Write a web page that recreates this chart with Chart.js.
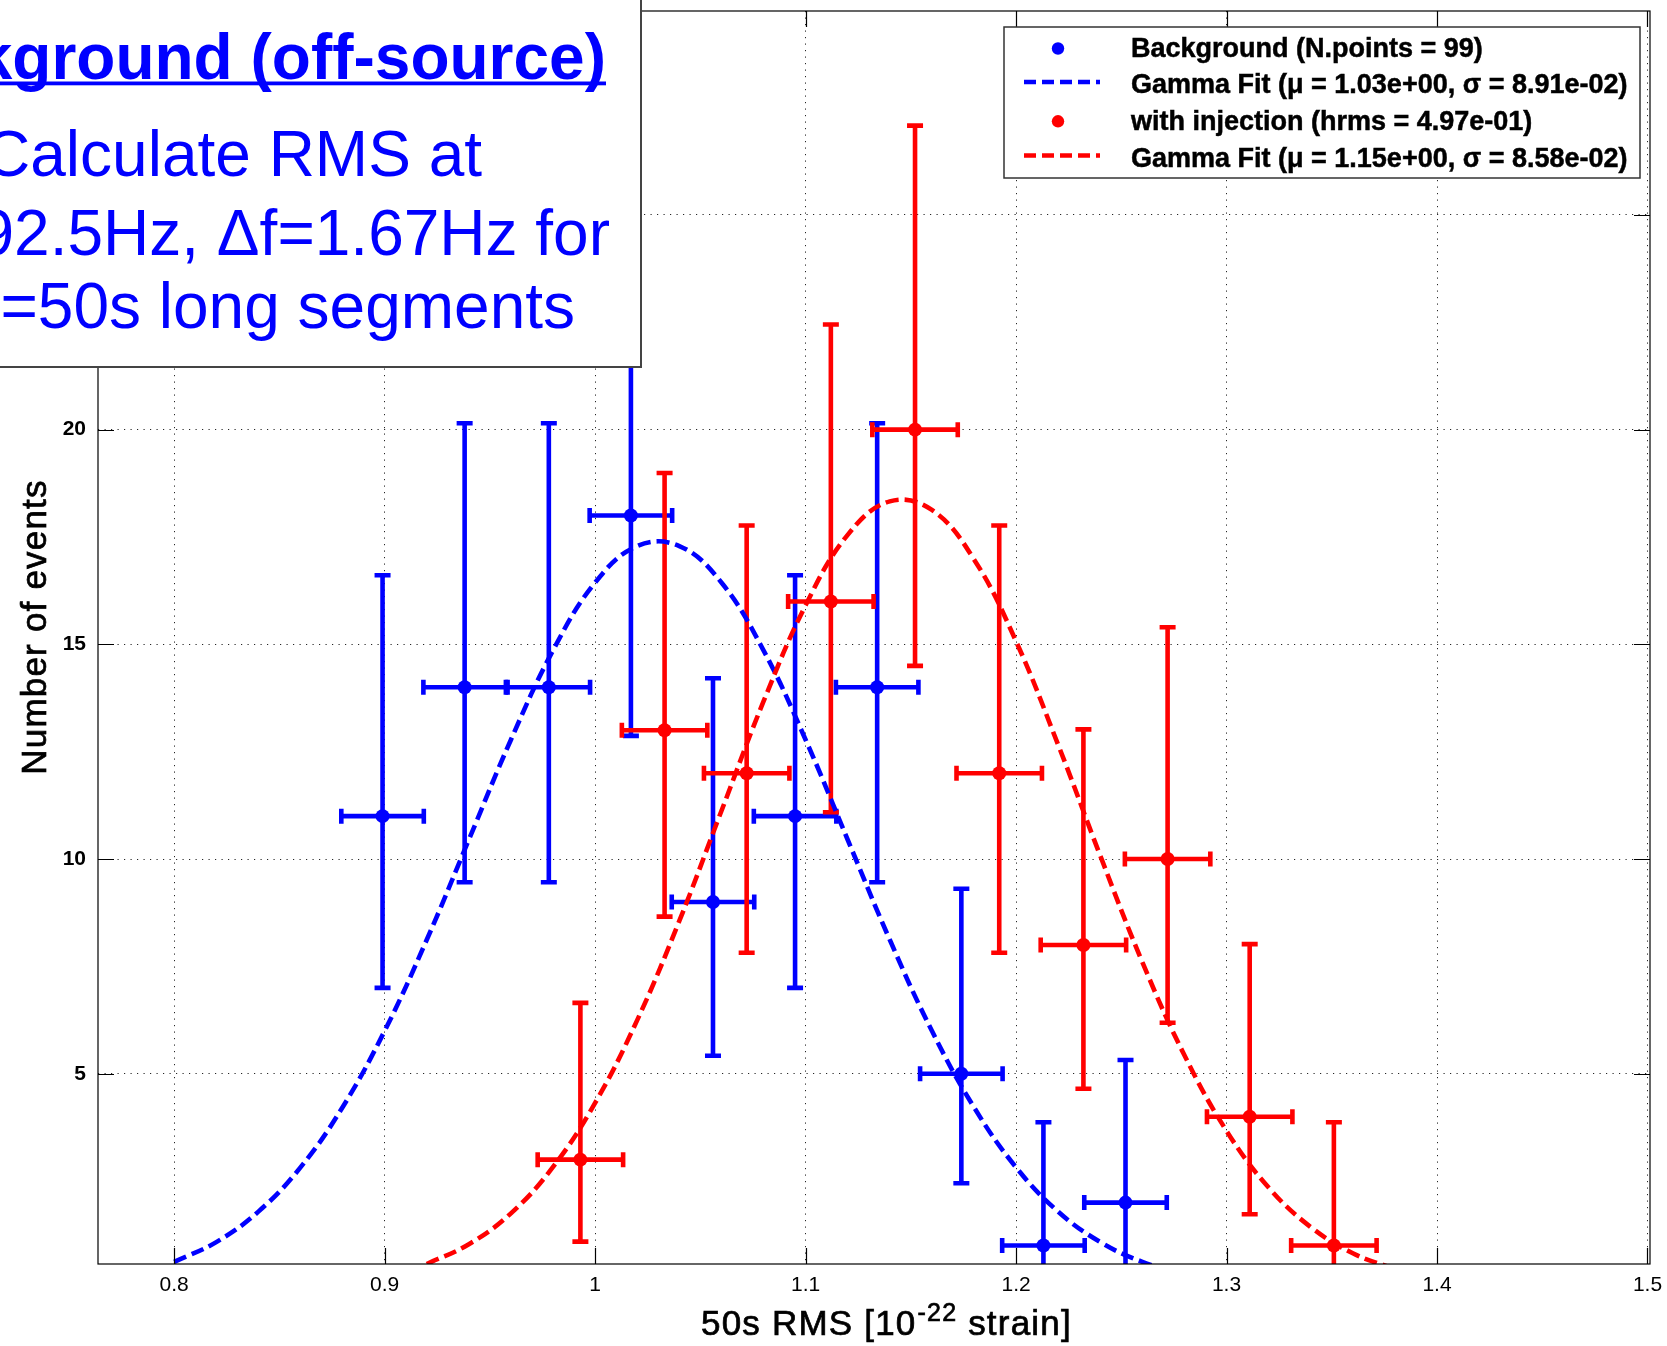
<!DOCTYPE html>
<html>
<head>
<meta charset="utf-8">
<script src="https://cdn.jsdelivr.net/npm/chart.js@4.4.0/dist/chart.umd.min.js"></script>
<style>
html, body { margin:0; padding:0; background:#fff; overflow:hidden; }
#wrap { width:1667px; height:1346px; position:relative; }
</style>
</head>
<body>
<div id="wrap"><canvas id="graf"></canvas></div>
<script>
// tick labels
var xTicks = [0.8, 0.9, 1.0, 1.1, 1.2, 1.3, 1.4, 1.5];
var yTicks = [5, 10, 15, 20, 25];

// background (off-source) histogram, with error bars
var bgX  = [0.899, 0.938, 0.978, 1.017, 1.056, 1.095, 1.134, 1.174, 1.213, 1.252];
var bgY  = [11, 14, 14, 18, 9, 11, 14, 5, 1, 2];
var bgHi = [16.61, 20.15, 20.15, 24.8, 14.21, 16.61, 20.15, 9.31, 3.87, 5.32];
var bgLo = [7.0, 9.46, 9.46, 12.87, 5.42, 7.0, 9.46, 2.45, 0, 0.3];
var bgDx = 0.0196;

// with injection
var injX  = [0.993, 1.033, 1.072, 1.112, 1.152, 1.192, 1.232, 1.272, 1.311, 1.351];
var injY  = [3, 13, 12, 16, 20, 12, 8, 10, 4, 1];
var injHi = [6.65, 18.99, 17.77, 22.45, 27.08, 17.77, 13.02, 15.40, 8.02, 3.87];
var injLo = [1.09, 8.66, 7.82, 11.09, 14.50, 7.82, 4.65, 6.19, 1.73, 0];
var injDx = 0.0203;

// fitted curves
var fitBgX = [0.80, 0.82, 0.84, 0.86, 0.88, 0.90, 0.92, 0.94, 0.96, 0.98, 1.00, 1.02, 1.04,
              1.06, 1.08, 1.10, 1.12, 1.14, 1.16, 1.18, 1.20, 1.22, 1.24, 1.26, 1.28];
var fitBgY = [0.62, 1.08, 1.79, 2.82, 4.22, 6.00, 8.12, 10.45, 12.78, 14.86, 16.44, 17.29, 17.29,
              16.44, 14.86, 12.78, 10.45, 8.12, 6.00, 4.22, 2.82, 1.79, 1.08, 0.62, 0.33];
var fitInjX = [0.92, 0.94, 0.96, 0.98, 1.00, 1.02, 1.04, 1.06, 1.08, 1.10, 1.12, 1.14,
               1.16, 1.18, 1.20, 1.22, 1.24, 1.26, 1.28, 1.30, 1.32, 1.34, 1.36, 1.38];
var fitInjY = [0.57, 1.03, 1.75, 2.83, 4.32, 6.25, 8.56, 11.12, 13.67, 15.91, 17.55, 18.33,
               18.13, 16.98, 15.07, 12.66, 10.08, 7.60, 5.43, 3.67, 2.35, 1.43, 0.82, 0.45];

var legendLabels = [
    'Background (N.points = 99)',
    'Gamma Fit (\u03bc = 1.03e+00, \u03c3 = 8.91e-02)',
    'with injection (hrms = 4.97e-01)',
    'Gamma Fit (\u03bc = 1.15e+00, \u03c3 = 8.58e-02)'
];
var boxTitle = 'Background (off-source)';
var boxLines = ['Calculate RMS at', '92.5Hz, \u0394f=1.67Hz for', '=50s long segments'];
var xTitle = ['50s RMS [10', '-22', ' strain]'];
var yTitle = 'Number of events';

var BLUE = '#0000ff';
var RED = '#ff0000';
var FONT = "'Liberation Sans', Arial, sans-serif";

function pts(xs, ys){
    var out = [];
    for(var i=0; i<xs.length; i++){
        out.push({x:xs[i], y:ys[i]});
    }
    return out;
}

var errorBars = {
    id:'errorBars',
    beforeDatasetsDraw:function(chart){
        var ctx = chart.ctx, a = chart.chartArea;
        var x = chart.scales.x, y = chart.scales.y;
        var sets = [
            {xs:bgX, ys:bgY, hi:bgHi, lo:bgLo, dx:bgDx, color:BLUE},
            {xs:injX, ys:injY, hi:injHi, lo:injLo, dx:injDx, color:RED}
        ];
        ctx.save();
        ctx.beginPath();
        ctx.rect(a.left, a.top, a.right-a.left, a.bottom-a.top);
        ctx.clip();
        sets.forEach(function(s){
            ctx.strokeStyle = s.color;
            ctx.lineWidth = 4.6;
            for(var i=0; i<s.xs.length; i++){
                var px = x.getPixelForValue(s.xs[i]);
                var py = y.getPixelForValue(s.ys[i]);
                var top = y.getPixelForValue(s.hi[i]);
                var bot = y.getPixelForValue(s.lo[i]);
                var l = x.getPixelForValue(s.xs[i]-s.dx);
                var r = x.getPixelForValue(s.xs[i]+s.dx);
                ctx.beginPath();
                ctx.moveTo(px, top); ctx.lineTo(px, bot);
                ctx.moveTo(px-8, top); ctx.lineTo(px+8, top);
                ctx.moveTo(px-8, bot); ctx.lineTo(px+8, bot);
                ctx.moveTo(l, py); ctx.lineTo(r, py);
                ctx.moveTo(l, py-7.5); ctx.lineTo(l, py+7.5);
                ctx.moveTo(r, py-7.5); ctx.lineTo(r, py+7.5);
                ctx.stroke();
            }
        });
        ctx.restore();
    }
};

var frame = {
    id:'frame',
    afterDatasetsDraw:function(chart){
        var ctx = chart.ctx, a = chart.chartArea;
        var x = chart.scales.x, y = chart.scales.y;
        var tl = 16;
        ctx.save();
        ctx.strokeStyle = '#000';
        ctx.lineWidth = 1.2;
        ctx.strokeRect(a.left, a.top, a.right-a.left, a.bottom-a.top);
        ctx.beginPath();
        xTicks.forEach(function(v){
            var px = Math.round(x.getPixelForValue(v))+0.5;
            ctx.moveTo(px, a.bottom); ctx.lineTo(px, a.bottom-tl);
            ctx.moveTo(px, a.top); ctx.lineTo(px, a.top+tl);
        });
        yTicks.forEach(function(v){
            var py = Math.round(y.getPixelForValue(v))+0.5;
            ctx.moveTo(a.left, py); ctx.lineTo(a.left+tl, py);
            ctx.moveTo(a.right, py); ctx.lineTo(a.right-tl, py);
        });
        ctx.stroke();
        ctx.restore();
    }
};

function drawLegend(ctx, a){
    var left = a.right-646, top = a.top+16, w = 636, h = 151;
    ctx.save();
    ctx.fillStyle = '#fff';
    ctx.fillRect(left, top, w, h);
    ctx.strokeStyle = '#333';
    ctx.lineWidth = 1.5;
    ctx.strokeRect(left, top, w, h);
    var rowBase = [30, 66, 102.8, 139.5];
    var colors = [BLUE, BLUE, RED, RED];
    ctx.font = 'bold 27px ' + FONT;
    ctx.textAlign = 'left';
    ctx.textBaseline = 'alphabetic';
    for(var i=0; i<legendLabels.length; i++){
        var yb = top + rowBase[i];
        ctx.fillStyle = colors[i];
        ctx.strokeStyle = colors[i];
        if(i % 2 === 0){
            ctx.beginPath();
            ctx.arc(left+54, yb-8.5, 6.2, 0, Math.PI*2);
            ctx.fill();
        } else {
            ctx.lineWidth = 4.5;
            ctx.setLineDash([12, 6]);
            ctx.beginPath();
            ctx.moveTo(left+20, yb-11);
            ctx.lineTo(left+96, yb-11);
            ctx.stroke();
            ctx.setLineDash([]);
        }
        ctx.fillStyle = '#000';
        ctx.strokeStyle = '#000';
        ctx.lineWidth = 0.5;
        ctx.fillText(legendLabels[i], left+127, yb);
        ctx.strokeText(legendLabels[i], left+127, yb);
    }
    ctx.restore();
}

function drawBox(ctx){
    ctx.save();
    ctx.fillStyle = '#fff';
    ctx.fillRect(-5, -5, 646, 372);
    ctx.strokeStyle = '#444';
    ctx.lineWidth = 2;
    ctx.strokeRect(-5, -5, 646, 372);
    ctx.fillStyle = BLUE;
    ctx.textAlign = 'right';
    ctx.textBaseline = 'alphabetic';
    ctx.font = 'bold 64px ' + FONT;
    ctx.fillText(boxTitle, 606, 79);
    ctx.fillRect(0, 81.5, 606, 3.8);
    ctx.font = '64px ' + FONT;
    ctx.fillText(boxLines[0], 482, 176);
    ctx.fillText(boxLines[1], 610, 255);
    ctx.fillText(boxLines[2], 575, 328);
    ctx.restore();
}

function drawTitles(ctx, a){
    ctx.save();
    ctx.fillStyle = '#000';
    ctx.strokeStyle = '#000';
    ctx.lineWidth = 0.7;
    ctx.textBaseline = 'alphabetic';
    ctx.textAlign = 'left';
    try { ctx.letterSpacing = '1.2px'; } catch(e) {}
    ctx.font = '35px ' + FONT;
    var xs = 701, yb = 1335;
    ctx.fillText(xTitle[0], xs, yb);
    ctx.strokeText(xTitle[0], xs, yb);
    xs += ctx.measureText(xTitle[0]).width;
    ctx.font = '25px ' + FONT;
    ctx.fillText(xTitle[1], xs+1, yb-14);
    ctx.strokeText(xTitle[1], xs+1, yb-14);
    xs += ctx.measureText(xTitle[1]).width + 1;
    ctx.font = '35px ' + FONT;
    ctx.fillText(xTitle[2], xs, yb);
    ctx.strokeText(xTitle[2], xs, yb);

    ctx.translate(46, 627);
    ctx.rotate(-Math.PI/2);
    ctx.textAlign = 'center';
    ctx.fillText(yTitle, 0, 0);
    ctx.strokeText(yTitle, 0, 0);
    ctx.restore();
}

var overlay = {
    id:'overlay',
    afterDraw:function(chart){
        var ctx = chart.ctx, a = chart.chartArea;
        drawLegend(ctx, a);
        drawTitles(ctx, a);
        drawBox(ctx);
    }
};

function noPad(s){
    s.paddingLeft = 0;
    s.paddingRight = 0;
    s.paddingTop = 0;
    s.paddingBottom = 0;
}

var grafik;
window.onload = function(){
    grafik = new Chart(document.getElementById('graf'), {
        type:'scatter',
        data:{
            datasets:[
                {label:'Background', data:pts(bgX, bgY), pointRadius:7, pointHoverRadius:7,
                 backgroundColor:BLUE, borderWidth:0, order:1},
                {label:'with injection', data:pts(injX, injY), pointRadius:7, pointHoverRadius:7,
                 backgroundColor:RED, borderWidth:0, order:0},
                {label:'Gamma Fit bg', data:pts(fitBgX, fitBgY), showLine:true, pointRadius:0,
                 borderColor:BLUE, borderWidth:4.6, borderDash:[13, 6], tension:0.4, fill:false, order:3},
                {label:'Gamma Fit inj', data:pts(fitInjX, fitInjY), showLine:true, pointRadius:0,
                 borderColor:RED, borderWidth:4.6, borderDash:[13, 6], tension:0.4, fill:false, order:2}
            ]
        },
        options:{
            responsive:true,
            maintainAspectRatio:false,
            animation:false,
            events:[],
            layout:{ padding:{left:0, right:17, top:11, bottom:0} },
            plugins:{ legend:{display:false}, tooltip:{enabled:false} },
            scales:{
                x:{
                    type:'linear',
                    min:0.7638,
                    max:1.5012,
                    afterBuildTicks:function(s){ s.ticks = xTicks.map(function(v){ return {value:v}; }); },
                    afterFit:function(s){ s.height = 82; noPad(s); },
                    grid:{ color:'rgba(0,0,0,0.85)', lineWidth:1, drawTicks:false },
                    border:{ display:false, dash:[1.2, 5.3] },
                    ticks:{
                        color:'#000', padding:9, maxRotation:0, autoSkip:false,
                        font:{family:FONT, size:21},
                        callback:function(v){ return String(Math.round(v*10)/10); }
                    }
                },
                y:{
                    type:'linear',
                    min:0.57,
                    max:29.75,
                    afterBuildTicks:function(s){ s.ticks = yTicks.map(function(v){ return {value:v}; }); },
                    afterFit:function(s){ s.width = 98; noPad(s); },
                    grid:{ color:'rgba(0,0,0,0.85)', lineWidth:1, drawTicks:false },
                    border:{ display:false, dash:[1.2, 5.3] },
                    ticks:{
                        color:'#000', padding:12, autoSkip:false,
                        font:{family:FONT, size:21, weight:'bold'}
                    }
                }
            }
        },
        plugins:[errorBars, frame, overlay]
    });
};
</script>
</body>
</html>
